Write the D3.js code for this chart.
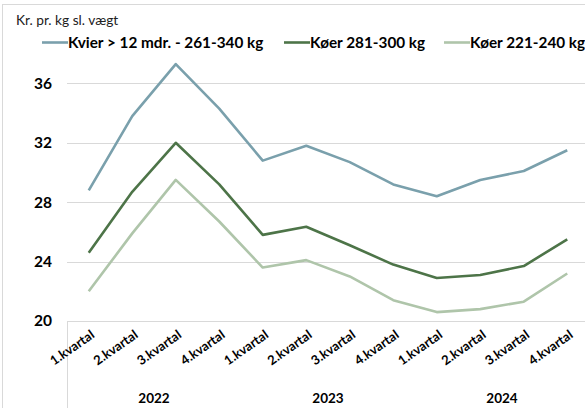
<!DOCTYPE html>
<html>
<head>
<meta charset="utf-8">
<script src="https://cdn.jsdelivr.net/npm/d3@7"></script>
<style>
  body { margin: 0; background: #fff; }
  svg { display: block; font-family: Lato, "Liberation Sans", sans-serif; }
</style>
</head>
<body>
<script>
const years = ["2022", "2023", "2024"];
const quarters = ["1.kvartal", "2.kvartal", "3.kvartal", "4.kvartal"];
const seriesNames = ["Kvier > 12 mdr. - 261-340 kg", "Køer 281-300 kg", "Køer 221-240 kg"];
const kvier = [28.8, 33.8, 37.3, 34.3, 30.8, 31.8, 30.7, 29.2, 28.4, 29.5, 30.1, 31.5];
const koer281 = [24.6, 28.7, 32.0, 29.2, 25.8, 26.35, 25.1, 23.8, 22.9, 23.1, 23.7, 25.5];
const koer221 = [22.0, 25.9, 29.5, 26.7, 23.6, 24.1, 23.0, 21.4, 20.6, 20.8, 21.3, 23.2];
const yTicks = [20, 24, 28, 32, 36];

const colors = ["#7aa0ac", "#4d7448", "#afc5aa"];
const w = 585, h = 408;

const categories = [];
years.forEach(y => quarters.forEach(q => categories.push({ year: y, q: q, key: y + "-" + q })));
const series = [kvier, koer281, koer221].map((vals, i) => ({ name: seriesNames[i], color: colors[i], values: vals }));

const svg = d3.select("body").append("svg").attr("width", w).attr("height", h);

// outer frame
svg.append("rect").attr("x", 2.5).attr("y", 4.5).attr("width", w).attr("height", h)
  .attr("fill", "none").attr("stroke", "#d9d9d9");

const xScale = d3.scaleBand().domain(categories.map(d => d.key)).range([67, 589]);
const yScale = d3.scaleLinear().domain([20, 40]).range([321, 24]);
const xc = k => xScale(k) + xScale.bandwidth() / 2;

// gridlines
svg.append("g").selectAll("line").data(yTicks.slice(1)).enter().append("line")
  .attr("x1", 67).attr("x2", w)
  .attr("y1", d => Math.round(yScale(d)) + 0.5).attr("y2", d => Math.round(yScale(d)) + 0.5)
  .attr("stroke", "#d9d9d9").attr("stroke-width", 1);

// y axis labels
const yAxis = d3.axisLeft(yScale).tickValues(yTicks).tickSize(0).tickPadding(0);
svg.append("g").attr("transform", "translate(52,0)").call(yAxis)
  .call(g => g.select(".domain").remove())
  .selectAll("text").attr("font-size", 15.5).attr("font-weight", "bold").attr("fill", "#000")
  .attr("font-family", "Lato, sans-serif");

// x axis line and left separator
svg.append("line").attr("x1", 67).attr("x2", w).attr("y1", 321.5).attr("y2", 321.5).attr("stroke", "#d9d9d9");
svg.append("line").attr("x1", 67.5).attr("x2", 67.5).attr("y1", 321).attr("y2", h).attr("stroke", "#d9d9d9");

// category labels
svg.append("g").selectAll("text").data(categories).enter().append("text")
  .attr("transform", d => `translate(${xc(d.key) + 4},${333}) rotate(-35)`)
  .attr("text-anchor", "end").attr("dy", "0.35em")
  .attr("font-size", 13).attr("font-weight", "bold").attr("fill", "#000")
  .text(d => d.q);

// year labels
svg.append("g").selectAll("text").data(years).enter().append("text")
  .attr("x", y => (xc(y + "-" + quarters[0]) + xc(y + "-" + quarters[3])) / 2)
  .attr("y", 403).attr("text-anchor", "middle")
  .attr("font-size", 13.5).attr("font-weight", "bold").attr("fill", "#000")
  .text(y => y);

// lines
const line = d3.line().x((v, i) => xc(categories[i].key)).y(v => yScale(v));
svg.append("g").selectAll("path").data(series).enter().append("path")
  .attr("d", d => line(d.values))
  .attr("fill", "none").attr("stroke", d => d.color).attr("stroke-width", 2.6)
  .attr("stroke-linejoin", "round");

// title
svg.append("text").attr("x", 16).attr("y", 25).attr("font-size", 13.7).attr("fill", "#222")
  .text("Kr. pr. kg sl. vægt");

// legend
const legendX = [42, 284, 444];
const lg = svg.append("g").selectAll("g").data(series).enter().append("g")
  .attr("transform", (d, i) => `translate(${legendX[i]},42.5)`);
lg.append("line").attr("x1", 0).attr("x2", 26).attr("stroke", d => d.color).attr("stroke-width", 2.6);
lg.append("text").attr("x", 26).attr("dy", "0.35em").attr("font-size", 15.3).attr("font-weight", "bold")
  .attr("fill", "#000").text(d => d.name);
</script>
</body>
</html>
